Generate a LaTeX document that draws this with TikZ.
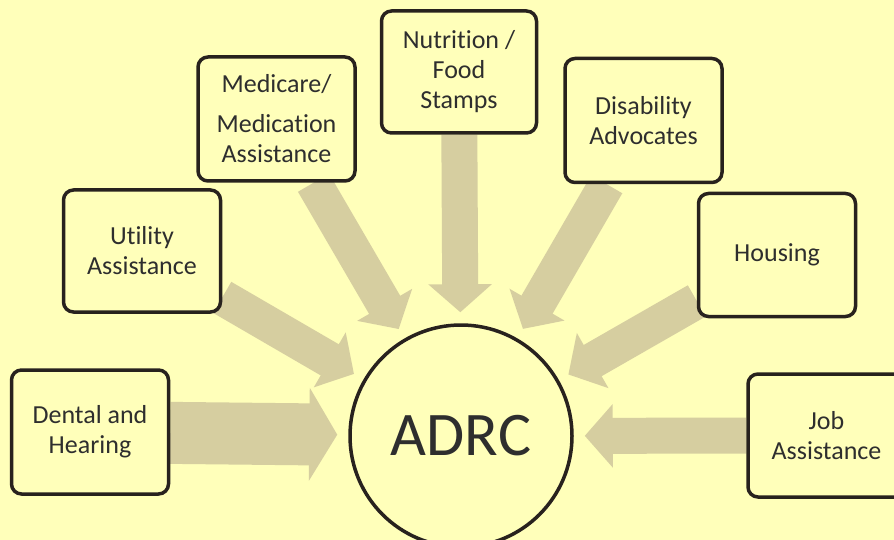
\documentclass[tikz,border=0pt]{standalone}
\usepackage{fontspec}
\setmainfont{Carlito}[Ligatures={NoCommon,NoRequired,NoContextual}]
\usetikzlibrary{arrows.meta}
\definecolor{bgyellow}{RGB}{255,255,186}
\definecolor{arrowkhaki}{RGB}{214,206,160}
\definecolor{boxline}{RGB}{40,34,30}
\pgfdeclarelayer{bg}
\pgfdeclarelayer{arrowlayer}
\pgfsetlayers{bg,arrowlayer,main}
\begin{document}
\begin{tikzpicture}[x=1pt,y=-1pt,
  box/.style={draw=boxline, line width=3.5pt, rounded corners=10pt, fill=bgyellow,
    minimum width=157pt, minimum height=124pt, align=center, inner sep=0pt,
    font=\fontsize{26}{30}\selectfont, text=black!82},
  hub/.style={circle, draw=boxline, line width=3.5pt, fill=bgyellow, minimum size=222pt,
    inner sep=0pt, font=\fontsize{62}{70}\selectfont, text=black!82},
  flow/.style={draw=arrowkhaki, line width=36pt, -{Triangle[width=62pt,length=28pt]}, shorten >=11pt},
  bigflow/.style={draw=arrowkhaki, line width=62pt, -{Triangle[width=92pt,length=28pt]}, shorten >=11pt},
]
\useasboundingbox (0,0) rectangle (894,540);
\begin{pgfonlayer}{bg}
  \fill[bgyellow] (0,0) rectangle (894,540);
\end{pgfonlayer}

\node[hub] (adrc) at (461,436) {ADRC};

\node[box, minimum width=155pt, minimum height=122pt] (nut) at (459,72) {Nutrition /\\Food\\Stamps};
\node[box] (med) at (276.5,119) {Medicare/\\[10pt]Medication\\Assistance};
\node[box] (dis) at (643.5,120.5) {Disability\\Advocates};
\node[box, minimum height=122pt] (uti) at (142,251) {Utility\\Assistance};
\node[box, minimum height=123pt] (hou) at (777,255) {Housing};
\node[box] (den) at (90,432) {Dental and\\Hearing};
\node[box, minimum height=123pt] (job) at (826.5,435.5) {Job\\Assistance};

\begin{pgfonlayer}{arrowlayer}
  \draw[flow] (nut) -- (adrc);
  \draw[flow] (med) -- (adrc);
  \draw[flow] (dis) -- (adrc);
  \draw[flow] (uti) -- (adrc);
  \draw[flow] (hou) -- (adrc);
  \draw[bigflow] (den) -- (adrc);
  \draw[flow] (job) -- (adrc);
\end{pgfonlayer}
\end{tikzpicture}
\end{document}
